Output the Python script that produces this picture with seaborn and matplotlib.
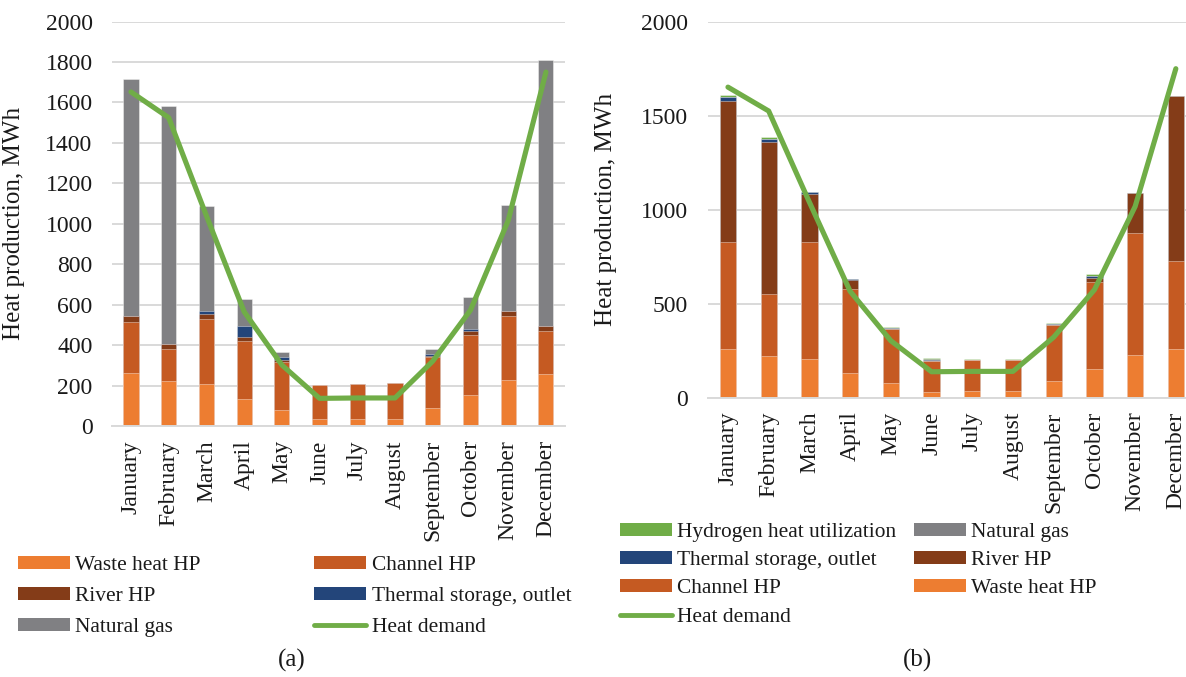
import numpy as np
import pandas as pd
import matplotlib
matplotlib.use("Agg")
import matplotlib.pyplot as plt
import seaborn as sns
from matplotlib.patches import Patch
from matplotlib.lines import Line2D

months = ["January", "February", "March", "April", "May", "June", "July",
          "August", "September", "October", "November", "December"]

# Panel (a) heat production, MWh
a_waste = [262, 224, 209, 135, 80, 36, 36, 36, 91, 154, 229, 258]
a_channel = [253, 156, 319, 286, 239, 166, 173, 177, 252, 297, 314, 212]
a_river = [29, 26, 26, 21, 7, 0, 0, 0, 6, 21, 28, 27]
a_storage = [0, 0, 17, 53, 14, 0, 0, 0, 10, 8, 0, 0]
a_gas = [1174, 1178, 518, 132, 25, 0, 0, 0, 25, 158, 521, 1314]

# Panel (b) heat production, MWh
b_waste = [261, 222, 208, 131, 78, 30, 37, 37, 89, 153, 225, 257]
b_channel = [569, 330, 619, 447, 287, 165, 165, 165, 296, 464, 651, 470]
b_river = [750, 808, 258, 46, 0, 0, 0, 0, 0, 22, 214, 878]
b_storage = [21, 16, 9, 7, 6, 6, 0, 0, 6, 8, 0, 0]
b_gas = [0, 0, 0, 0, 0, 3, 0, 0, 0, 0, 0, 0]
b_hydrogen = [11, 12, 0, 0, 3, 8, 6, 6, 5, 9, 0, 0]

heat_demand = [1652, 1525, 1040, 566, 303, 138, 140, 140, 322, 574, 1017, 1750]

C_WASTE = "#ED7D31"
C_CHANNEL = "#C55A22"
C_RIVER = "#843C18"
C_STORAGE = "#23457A"
C_GAS = "#808083"
C_H2 = "#70AD47"
C_DEMAND = "#70AD47"
GRID = "#D9D9D9"
TXT = "#1a1a1a"

sns.set_theme(style="white")
plt.rcParams["font.family"] = ["Liberation Serif", "DejaVu Serif"]
plt.rcParams["text.color"] = TXT
plt.rcParams["axes.labelcolor"] = TXT
plt.rcParams["xtick.color"] = TXT
plt.rcParams["ytick.color"] = TXT

W, H = 1186, 677
fig = plt.figure(figsize=(W / 100, H / 100), dpi=100)
axA = fig.add_axes([112.1 / W, 1 - 426.3 / H, 452.7 / W, (426.3 - 21.5) / H])
axB = fig.add_axes([707.6 / W, 1 - 397.7 / H, 488.6 / W, (397.7 - 21.7) / H])


def stacked(ax, layers, colors):
    cum = np.cumsum(np.array(layers, dtype=float), axis=0)
    for i in range(len(layers) - 1, -1, -1):
        df = pd.DataFrame({"month": months, "value": cum[i]})
        sns.barplot(data=df, x="month", y="value", color=colors[i], width=0.4,
                    saturation=1, errorbar=None, ax=ax,
                    edgecolor=(1, 1, 1, 0.45), linewidth=0.6)
    sns.lineplot(x=np.arange(len(months)), y=heat_demand, ax=ax, color=C_DEMAND,
                 linewidth=3.7, sort=False, legend=False,
                 solid_capstyle="round", solid_joinstyle="round")


stacked(axA, [a_waste, a_channel, a_river, a_storage, a_gas],
        [C_WASTE, C_CHANNEL, C_RIVER, C_STORAGE, C_GAS])
stacked(axB, [b_waste, b_channel, b_river, b_storage, b_gas, b_hydrogen],
        [C_WASTE, C_CHANNEL, C_RIVER, C_STORAGE, C_GAS, C_H2])

for ax, ticks in ((axA, range(0, 2001, 200)), (axB, range(0, 2001, 500))):
    ax.set_xlim(-0.5, 11.5)
    ax.set_ylim(0, 2000)
    ax.set_yticks(list(ticks))
    ax.set_xticks(range(len(months)))
    ax.set_xticklabels(months, rotation=90, fontsize=17)
    ax.tick_params(axis="y", labelsize=17, length=0, pad=14)
    ax.tick_params(axis="x", length=0, pad=10)
    ax.yaxis.grid(True, color=GRID, linewidth=1.4)
    ax.xaxis.grid(False)
    ax.set_axisbelow(True)
    for s in ("top", "right", "left"):
        ax.spines[s].set_visible(False)
    ax.spines["bottom"].set_color(GRID)
    ax.spines["bottom"].set_linewidth(1.4)
    ax.set_xlabel("")
    ax.set_ylabel("Heat production, MWh", fontsize=18)

axA.yaxis.set_label_coords(-0.192, 0.5)
axB.yaxis.set_label_coords(-0.185, 0.5)


def patch(c):
    return Patch(facecolor=c, edgecolor="none")


demand_handle = Line2D([0], [0], color=C_DEMAND, linewidth=3.5, solid_capstyle="round")

leg_kw = dict(loc="upper left", ncol=2, frameon=False, fontsize=15.4,
              handlelength=2.43, handleheight=0.55, handletextpad=0.25,
              borderpad=0, borderaxespad=0)

fig.legend([patch(C_WASTE), patch(C_RIVER), patch(C_GAS),
            patch(C_CHANNEL), patch(C_STORAGE), demand_handle],
           ["Waste heat HP", "River HP", "Natural gas",
            "Channel HP", "Thermal storage, outlet", "Heat demand"],
           bbox_to_anchor=(18 / W, 1 - 556 / H), columnspacing=5.3,
           labelspacing=0.56, **leg_kw)

fig.legend([patch(C_H2), patch(C_STORAGE), patch(C_CHANNEL), demand_handle,
            patch(C_GAS), patch(C_RIVER), patch(C_WASTE)],
           ["Hydrogen heat utilization", "Thermal storage, outlet", "Channel HP",
            "Heat demand", "Natural gas", "River HP", "Waste heat HP"],
           bbox_to_anchor=(620 / W, 1 - 523 / H), columnspacing=0.8,
           labelspacing=0.43, **leg_kw)

fig.text(292 / W, 1 - 660 / H, "(a)", ha="center", va="center", fontsize=18)
fig.text(917 / W, 1 - 660 / H, "(b)", ha="center", va="center", fontsize=18)

fig.savefig("out.png", dpi=100)
